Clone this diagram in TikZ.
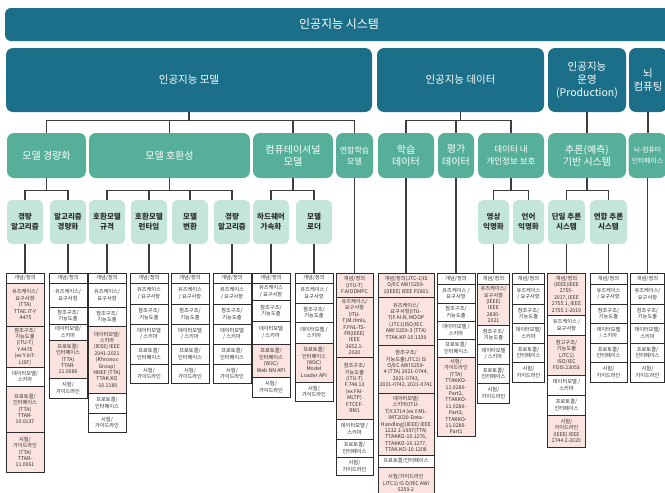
\documentclass[tikz,border=0pt]{standalone}
\usepackage{fontspec}
\setmainfont{Noto Sans CJK KR}
\usepackage{tikz}

\definecolor{tealdark}{HTML}{1B6F88}
\definecolor{tealmid}{HTML}{56AF99}
\definecolor{mint}{HTML}{C3E5DA}
\definecolor{pinkcell}{HTML}{FBE3E0}
\definecolor{ink}{HTML}{2E2E2E}
\definecolor{linegray}{HTML}{3C3C3C}

\begin{document}
\begin{tikzpicture}[x=1pt,y=-1pt,
    top/.style={fill=tealdark, rounded corners=6pt, text=white, inner sep=1pt,
      font=\fontsize{12}{14}\selectfont},
    grp/.style={fill=tealdark, rounded corners=7pt, text=white, inner sep=1pt,
      align=center, font=\fontsize{10.5}{13}\selectfont},
    sub/.style={fill=tealmid, rounded corners=7pt, text=white, inner sep=1pt,
      align=center, minimum height=45, font=\fontsize{10}{12.5}\selectfont},
    leaf/.style={fill=mint, rounded corners=5pt, text=ink, inner sep=1pt,
      align=center, minimum width=36, minimum height=44,
      font=\fontsize{7.5}{10}\selectfont\bfseries},
    cell/.style={draw=ink, line width=0.8pt, fill=white, text=ink, inner sep=1pt,
      outer sep=0pt, align=center, anchor=north, font=\fontsize{5.2}{6.4}\selectfont},
    pk/.style={cell, fill=pinkcell},
    link/.style={draw=linegray, line width=1.1pt}]
\useasboundingbox (0,0) rectangle (665,493);
\clip (0,0) rectangle (665,493);

% top
\node[top, minimum width=668, minimum height=33] (sys) at (339,24.5) {인공지능 시스템};

% level 2
\node[grp, minimum width=366, minimum height=64] (mdl) at (189,80) {인공지능 모델};
\node[grp, minimum width=167, minimum height=64] (dat) at (460.5,80) {인공지능 데이터};
\node[grp, minimum width=78, minimum height=64] (ops) at (587,80) {인공지능\\운영\\(Production)};
\node[grp, minimum width=38, minimum height=64] (brn) at (648,80) {뇌\\컴퓨팅};

% level 3
\node[sub, minimum width=79] (lite) at (46.5,155.5) {모델 경량화};
\node[sub, minimum width=161] (compat) at (169.5,155.5) {모델 호환성};
\node[sub, minimum width=80] (compu) at (293,155.5) {컴퓨테이셔널\\모델};
\node[sub, minimum width=37, font=\fontsize{8}{11}\selectfont] (fedl) at (354.5,155.5) {연합학습\\모델};
\node[sub, minimum width=56] (train) at (406,155.5) {학습\\데이터};
\node[sub, minimum width=36] (evalx) at (456,155.5) {평가\\데이터};
\node[sub, minimum width=66, font=\fontsize{8.5}{11.5}\selectfont] (priv) at (511,155.5) {데이터 내\\개인정보 보호};
\node[sub, minimum width=78] (infer) at (587,155.5) {추론(예측)\\기반 시스템};
\node[sub, minimum width=38, font=\fontsize{6.8}{11}\selectfont] (bci) at (647.5,155.5) {뇌-컴퓨터\\인터페이스};

% level 4
\node[leaf] (la1) at (25,222) {경량\\알고리즘};
\node[leaf] (la2) at (68,222) {알고리즘\\경량화};
\node[leaf] (cp1) at (107,222) {호환모델\\규격};
\node[leaf] (cp2) at (149,222) {호환모델\\런타임};
\node[leaf] (cp3) at (190,222) {모델\\변환};
\node[leaf] (cp4) at (232,222) {경량\\알고리즘};
\node[leaf] (cu1) at (271,222) {하드웨어\\가속화};
\node[leaf] (cu2) at (314,222) {모델\\로더};
\node[leaf, minimum width=31] (pv1) at (493.5,222) {영상\\익명화};
\node[leaf, minimum width=31] (pv2) at (528.5,222) {언어\\익명화};
\node[leaf, minimum width=37] (in1) at (566.5,222) {단일 추론\\시스템};
\node[leaf, minimum width=37] (in2) at (608.5,222) {연합 추론\\시스템};

% columns
\begin{scope}[cell/.append style={minimum width=38}]
\node[cell, minimum height=10] (c1a) at (25,273) {개념/정의};
\node[pk, minimum height=43] (c1b) at (c1a.south) {유즈케이스/\\요구사항\\(TTA)\\TTAE.IT-Y\\.4475};
\node[pk, minimum height=41] (c1c) at (c1b.south) {참조구조/\\기능도출\\(ITU-T)\\Y.4475\\(ex Y.IoT-\\LISF)};
\node[cell, minimum height=19] (c1d) at (c1c.south) {데이터모델/\\스키마};
\node[pk, minimum height=46] (c1e) at (c1d.south) {프로토콜/\\인터페이스\\(TTA)\\TTAR-\\10.0137};
\node[pk, minimum height=40] (c1f) at (c1e.south) {시험/\\가이드라인\\(TTA)\\TTAR-\\11.0061};

\node[cell, minimum height=10] (c2a) at (68,273) {개념/정의};
\node[cell, minimum height=24] (c2b) at (c2a.south) {유즈케이스/\\요구사항};
\node[cell, minimum height=17] (c2c) at (c2b.south) {참조구조/\\기능도출};
\node[cell, minimum height=16] (c2d) at (c2c.south) {데이터모델/\\스키마};
\node[pk, minimum height=38] (c2e) at (c2d.south) {프로토콜/\\인터페이스\\(TTA)\\TTAR-\\11.0088};
\node[cell, minimum height=20] (c2f) at (c2e.south) {시험/\\가이드라인};

\node[cell, minimum height=10] (c3a) at (107,273) {개념/정의};
\node[cell, minimum height=24] (c3b) at (c3a.south) {유즈케이스/\\요구사항};
\node[cell, minimum height=19] (c3c) at (c3b.south) {참조구조/\\기능도출};
\node[pk, minimum height=67] (c3d) at (c3c.south) {데이터모델/\\스키마\\(IEEE) IEEE\\2941-2021\\(Khronos\\Group)\\NNEF (TTA)\\TTAK.KO\\-10.1189};
\node[cell, minimum height=20] (c3e) at (c3d.south) {프로토콜/\\인터페이스};
\node[cell, minimum height=19] (c3f) at (c3e.south) {시험/\\가이드라인};

\node[cell, minimum height=10] (c4a) at (149,273) {개념/정의};
\node[cell, minimum height=21] (c4b) at (c4a.south) {유즈케이스\\/ 요구사항};
\node[cell, minimum height=20] (c4c) at (c4b.south) {참조구조/\\기능도출};
\node[cell, minimum height=20] (c4d) at (c4c.south) {데이터모델\\/ 스키마};
\node[cell, minimum height=20] (c4e) at (c4d.south) {프로토콜/\\인터페이스};
\node[cell, minimum height=19] (c4f) at (c4e.south) {시험/\\가이드라인};

\node[cell, minimum height=10] (c5a) at (190,273) {개념/정의};
\node[cell, minimum height=21] (c5b) at (c5a.south) {유즈케이스\\/ 요구사항};
\node[cell, minimum height=20] (c5c) at (c5b.south) {참조구조/\\기능도출};
\node[cell, minimum height=20] (c5d) at (c5c.south) {데이터모델\\/ 스키마};
\node[cell, minimum height=20] (c5e) at (c5d.south) {프로토콜/\\인터페이스};
\node[cell, minimum height=19] (c5f) at (c5e.south) {시험/\\가이드라인};

\node[cell, minimum height=10] (c6a) at (232,273) {개념/정의};
\node[cell, minimum height=21] (c6b) at (c6a.south) {유즈케이스\\/ 요구사항};
\node[cell, minimum height=20] (c6c) at (c6b.south) {참조구조/\\기능도출};
\node[cell, minimum height=20] (c6d) at (c6c.south) {데이터모델\\/ 스키마};
\node[cell, minimum height=20] (c6e) at (c6d.south) {프로토콜/\\인터페이스};
\node[cell, minimum height=19] (c6f) at (c6e.south) {시험/\\가이드라인};

\node[cell, minimum height=10] (c7a) at (271,273) {개념/정의};
\node[cell, minimum height=17] (c7b) at (c7a.south) {유즈케이스\\/ 요구사항};
\node[cell, minimum height=21] (c7c) at (c7b.south) {참조구조/\\기능도출};
\node[cell, minimum height=23] (c7d) at (c7c.south) {데이터모델\\/ 스키마};
\node[pk, minimum height=33] (c7e) at (c7d.south) {프로토콜/\\인터페이스\\(W3C)\\Web NN API};
\node[cell, minimum height=20] (c7f) at (c7e.south) {시험/\\가이드라인};

\node[cell, minimum height=10] (c8a) at (314,273) {개념/정의};
\node[cell, minimum height=20] (c8b) at (c8a.south) {유즈케이스 /\\요구사항};
\node[cell, minimum height=19] (c8c) at (c8b.south) {참조구조/\\기능도출};
\node[cell, minimum height=21] (c8d) at (c8c.south) {데이터모델 /\\스키마};
\node[pk, minimum height=39] (c8e) at (c8d.south) {프로토콜/\\인터페이스\\(W3C)\\Model\\Loader API};
\node[cell, minimum height=19] (c8f) at (c8e.south) {시험/\\가이드라인};

\node[cell, minimum height=11] (c11a) at (456,273) {개념/정의};
\node[cell, minimum height=19] (c11b) at (c11a.south) {유즈케이스 /\\요구사항};
\node[cell, minimum height=18] (c11c) at (c11b.south) {참조구조/\\기능도출};
\node[cell, minimum height=18] (c11d) at (c11c.south) {데이터모델 /\\스키마};
\node[cell, minimum height=18] (c11e) at (c11d.south) {프로토콜/\\인터페이스};
\node[pk, minimum height=79] (c11f) at (c11e.south) {시험/\\가이드라인\\(TTA)\\TTAKKO-\\11.0280-\\Part2,\\TTAKKO-\\11.0280-\\Part3,\\TTAKKO-\\11.0280-\\Part1};

\node[pk, minimum height=42] (c14a) at (566.5,273) {개념/정의\\(IEEE)IEEE\\2755-\\2017, IEEE\\2755.1, IEEE\\2755.1-2019};
\node[cell, minimum height=20] (c14b) at (c14a.south) {유즈케이스 /\\요구사항};
\node[pk, minimum height=40] (c14c) at (c14b.south) {참고구조/\\기능도출\\(JTC1)\\ISO/IEC\\FDIS 23053};
\node[cell, minimum height=20] (c14d) at (c14c.south) {데이터모델 /\\스키마};
\node[cell, minimum height=20] (c14e) at (c14d.south) {프로토콜/\\인터페이스};
\node[pk, minimum height=32] (c14f) at (c14e.south) {시험/\\가이드라인\\(IEEE) IEEE\\2744.2-2020};
\end{scope}

\begin{scope}[cell/.append style={minimum width=37}]
\node[pk, minimum height=24] (c9a) at (354.5,273) {개념/정의\\(ITU-T)\\F.AIODMPC};
\node[pk, minimum height=60] (c9b) at (c9a.south) {유즈케이스/\\요구사항\\(ITU-\\T)M.rlmls,\\F.FNL-TS-\\FR(IEEE)\\IEEE\\3652.1-\\2020};
\node[pk, minimum height=62] (c9c) at (c9b.south) {참조구조/\\기능도출\\(ITU-T)\\F.748.13\\(ex FAI-\\MLTP)\\F.TCEF-\\RM1};
\node[cell, minimum height=20] (c9d) at (c9c.south) {데이터모델 /\\스키마};
\node[cell, minimum height=18] (c9e) at (c9d.south) {프로토콜/\\인터페이스};
\node[cell, minimum height=18] (c9f) at (c9e.south) {시험/\\가이드라인};

\node[cell, minimum height=11] (c15a) at (608.5,273) {개념/정의};
\node[cell, minimum height=20] (c15b) at (c15a.south) {유즈케이스\\/ 요구사항};
\node[cell, minimum height=19] (c15c) at (c15b.south) {참조구조/\\기능도출};
\node[cell, minimum height=20] (c15d) at (c15c.south) {데이터모델\\/ 스키마};
\node[cell, minimum height=19] (c15e) at (c15d.south) {프로토콜/\\인터페이스};
\node[cell, minimum height=20] (c15f) at (c15e.south) {시험/\\가이드라인};
\end{scope}

\begin{scope}[cell/.append style={minimum width=56}]
\node[pk, minimum height=24] (c10a) at (406,273) {개념/정의(JTC-1)IS\\O/EC AWI 5259-\\1(IEEE) IEEE P2801};
\node[pk, minimum height=48] (c10b) at (c10a.south) {유즈케이스/\\요구사항(ITU-\\T)F.AI-R, MOOP\\(JTC1)ISO/IEC\\AWI 5259-3 (TTA)\\TTAK.KP-10.1339};
\node[pk, minimum height=48] (c10c) at (c10b.south) {참조구조/\\기능도출(JTC1) IS\\O/EC AWI 5259-\\4 (TTA) 2021-0744,\\2021-0743,\\2021-0742, 2021-0741};
\node[pk, minimum height=62] (c10d) at (c10c.south) {데이터모델/\\스키마(ITU-\\T)Y.3714 (ex Y.ML-\\IMT2020-Data-\\Handling)(IEEE) IEEE\\1232.1-1997(TTA)\\TTAKKO-10.1276,\\TTAKKO-10.1277,\\TTAK.KO-10.1208};
\node[cell, minimum height=12] (c10e) at (c10d.south) {프로토콜/인터페이스};
\node[pk, minimum height=32] (c10f) at (c10e.south) {시험/가이드라인\\(JTC1) IS O/IEC AWI\\5259-2};
\end{scope}

\begin{scope}[cell/.append style={minimum width=32}]
\node[cell, minimum height=11] (c12a) at (493.5,273) {개념/정의};
\node[pk, minimum height=41] (c12b) at (c12a.south) {유즈케이스/\\요구사항\\(IEEE)\\IEEE\\2830-\\2021};
\node[cell, minimum height=19] (c12c) at (c12b.south) {참조구조/\\기능도출};
\node[cell, minimum height=20] (c12d) at (c12c.south) {데이터모델\\/ 스키마};
\node[cell, minimum height=19] (c12e) at (c12d.south) {프로토콜/\\인터페이스};
\node[cell, minimum height=20] (c12f) at (c12e.south) {시험/\\가이드라인};

\node[cell, minimum height=11] (c13a) at (528.5,273) {개념/정의};
\node[cell, minimum height=20] (c13b) at (c13a.south) {유즈케이스\\/ 요구사항};
\node[cell, minimum height=19] (c13c) at (c13b.south) {참조구조/\\기능도출};
\node[cell, minimum height=20] (c13d) at (c13c.south) {데이터모델/\\스키마};
\node[cell, minimum height=19] (c13e) at (c13d.south) {프로토콜/\\인터페이스};
\node[cell, minimum height=20] (c13f) at (c13e.south) {시험/\\가이드라인};
\end{scope}

\begin{scope}[cell/.append style={minimum width=34}]
\node[cell, minimum height=11] (c16a) at (647.5,273) {개념/정의};
\node[cell, minimum height=20] (c16b) at (c16a.south) {유즈케이스/\\요구사항};
\node[cell, minimum height=19] (c16c) at (c16b.south) {참조구조/\\기능도출};
\node[cell, minimum height=20] (c16d) at (c16c.south) {데이터모델/\\스키마};
\node[cell, minimum height=19] (c16e) at (c16d.south) {프로토콜/\\인터페이스};
\node[cell, minimum height=20] (c16f) at (c16e.south) {시험/\\가이드라인};
\end{scope}

% level 2 -> level 3
\path (mdl.south) ++(0,8) coordinate (jm);
\path (dat.south) ++(0,8) coordinate (jd);
\draw[link] (mdl.south) -- (jm);
\draw[link] (dat.south) -- (jd);
\foreach \n in {lite,compat,compu,fedl} \draw[link] (jm) -| (\n.north);
\foreach \n in {train,evalx,priv} \draw[link] (jd) -| (\n.north);
\draw[link] (ops) -- (infer);
\draw[link] (brn.south) -- (brn.south |- bci.north);

% level 3 -> level 4
\path (lite.south) ++(0,12) coordinate (jl);
\path (compat.south) ++(0,12) coordinate (jc);
\path (compu.south) ++(0,12) coordinate (ju);
\path (priv.south) ++(0,12) coordinate (jp);
\path (infer.south) ++(0,12) coordinate (ji);
\draw[link] (lite.south) -- (jl);
\draw[link] (compat.south) -- (jc);
\draw[link] (compu.south) -- (ju);
\draw[link] (priv.south) -- (jp);
\draw[link] (infer.south) -- (ji);
\foreach \n in {la1,la2} \draw[link] (jl) -| (\n.north);
\foreach \n in {cp1,cp2,cp3,cp4} \draw[link] (jc) -| (\n.north);
\foreach \n in {cu1,cu2} \draw[link] (ju) -| (\n.north);
\foreach \n in {pv1,pv2} \draw[link] (jp) -| (\n.north);
\foreach \n in {in1,in2} \draw[link] (ji) -| (\n.north);

% down to the columns
\foreach \a/\b in {la1/c1a,la2/c2a,cp1/c3a,cp2/c4a,cp3/c5a,cp4/c6a,cu1/c7a,cu2/c8a,
    pv1/c12a,pv2/c13a,in1/c14a,in2/c15a,fedl/c9a,train/c10a,evalx/c11a,bci/c16a}
  \draw[link] (\a.south) -- (\b.north);
\end{tikzpicture}
\end{document}
